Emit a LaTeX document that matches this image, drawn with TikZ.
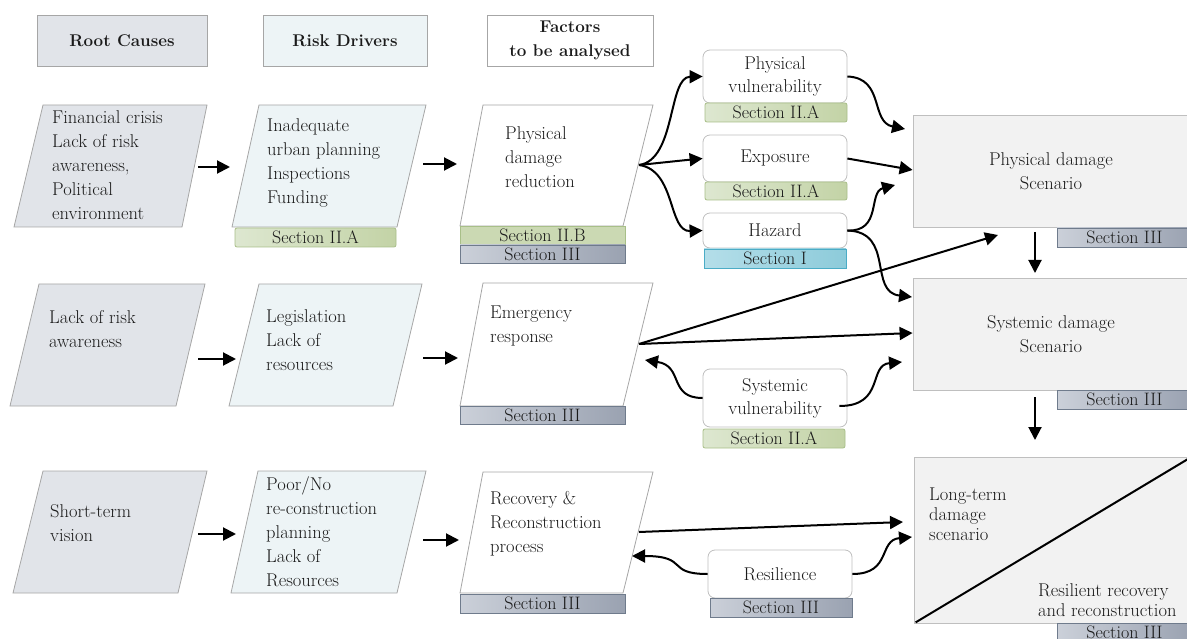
\documentclass[tikz,border=0pt]{standalone}
\usepackage{fontspec}
\usetikzlibrary{arrows.meta}
\definecolor{ink}{HTML}{1A1A1A}
\definecolor{rootfill}{HTML}{E1E4E9}
\definecolor{riskfill}{HTML}{EDF4F6}
\definecolor{edgegray}{HTML}{A6A6A6}
\definecolor{scenfill}{HTML}{F2F2F2}
\definecolor{scendraw}{HTML}{BFBFBF}
\definecolor{greenL}{HTML}{DDE7D0}
\definecolor{greenR}{HTML}{C3D3A6}
\definecolor{greenD}{HTML}{A8BF88}
\definecolor{greyL}{HTML}{CBD0D9}
\definecolor{greyR}{HTML}{9AA2B1}
\definecolor{greyD}{HTML}{6F7B8C}
\definecolor{blueL}{HTML}{B4DEE9}
\definecolor{blueR}{HTML}{8DCBDA}
\definecolor{blueD}{HTML}{4BACC6}
\begin{document}
\begin{tikzpicture}[x=1pt,y=-1pt,
  every node/.style={text=ink, inner sep=0pt},
  body/.style={font=\rmfamily\fontsize{18.5}{24}\selectfont, align=left, anchor=west},
  head/.style={draw=edgegray, line width=0.8pt, font=\rmfamily\fontsize{17}{24}\selectfont\bfseries, align=center},
  rootpar/.style={draw=edgegray, fill=rootfill, line width=0.8pt},
  riskpar/.style={draw=edgegray, fill=riskfill, line width=0.8pt},
  factpar/.style={draw=edgegray, fill=white, line width=0.8pt},
  smallbox/.style={draw=scendraw, fill=white, rounded corners=7pt, line width=0.8pt,
    font=\rmfamily\fontsize{18.5}{23}\selectfont, align=center},
  scen/.style={draw=scendraw, fill=scenfill, line width=0.8pt,
    font=\rmfamily\fontsize{18.5}{24}\selectfont, align=center},
  sec/.style={line width=0.8pt, font=\rmfamily\fontsize{18}{20}\selectfont},
  secA/.style={sec, draw=greenD, left color=greenL, right color=greenR, rounded corners=2pt},
  secB/.style={sec, draw=greenD, fill=greenR!70!greenL},
  secIII/.style={sec, draw=greyD, left color=greyL, right color=greyR},
  secI/.style={sec, draw=blueD, left color=blueL, right color=blueR},
  arr/.style={draw=black, line width=2pt, -{Triangle[length=13pt,width=13pt]}}
]
\useasboundingbox (0,0) rectangle (1187,639);
\clip (0,0) rectangle (1187,639);

% column headers
\node[head, fill=rootfill, minimum width=170, minimum height=51] (hroot) at (122,40.5) {Root Causes};
\node[head, fill=riskfill, minimum width=164, minimum height=51] (hrisk) at (345,40.5) {Risk Drivers};
\node[head, fill=white, minimum width=166, minimum height=51] (hfact) at (570,40.5) {Factors\\to be analysed};

% root causes
\path[rootpar] (14,227) -- (43,105) -- (207,105) -- (182,227) -- cycle;
\node[body] (root1) at (52,165) {Financial crisis\\Lack of risk\\awareness,\\Political\\environment};
\path[rootpar] (10,406) -- (39,284) -- (205,284) -- (176,406) -- cycle;
\node[body] (root2) at (49,329.5) {Lack of risk\\awareness};
\path[rootpar] (13,593) -- (43,471) -- (207,471) -- (178,593) -- cycle;
\node[body] (root3) at (50,523.5) {Short-term\\vision};

% risk drivers
\path[riskpar] (232,227) -- (259,105) -- (426,105) -- (397,227) -- cycle;
\node[body] (risk1) at (267,163) {Inadequate\\urban planning\\Inspections\\Funding};
\node[secA, minimum width=161, minimum height=19] (secrisk1) at (315.5,237.5) {Section II.A};
\path[riskpar] (229,406) -- (259,284) -- (422,284) -- (393,406) -- cycle;
\node[body] (risk2) at (266,340) {Legislation\\Lack of\\resources};
\path[riskpar] (231,593) -- (258,471) -- (426,471) -- (397,593) -- cycle;
\node[body] (risk3) at (266,532) {Poor/No\\re-construction\\planning\\Lack of\\Resources};

% factors to be analysed
\path[factpar] (460,226) -- (483,105) -- (653,105) -- (623,226) -- cycle;
\node[body] (fact1) at (505,157.5) {Physical\\damage\\reduction};
\node[secB, minimum width=165, minimum height=19] (secfact1a) at (542.5,235.5) {Section II.B};
\node[secIII, minimum width=165, minimum height=18] (secfact1b) at (542.5,254) {Section III};
\path[factpar] (460,406) -- (483,283) -- (653,283) -- (623,406) -- cycle;
\node[body] (fact2) at (490,326) {Emergency\\response};
\node[secIII, minimum width=165, minimum height=18] (secfact2) at (542.5,415) {Section III};
\path[factpar] (460,593) -- (483,472) -- (653,472) -- (623,593) -- cycle;
\node[body] (fact3) at (490,524) {Recovery \&\\Reconstruction\\process};
\node[secIII, minimum width=165, minimum height=19] (secfact3) at (542.5,603.5) {Section III};

% hazard components
\node[smallbox, minimum width=144, minimum height=53] (pv) at (775,76.5) {Physical\\vulnerability};
\node[secA, minimum width=142, minimum height=19] (secpv) at (776,112.5) {Section II.A};
\node[smallbox, minimum width=144, minimum height=47] (expo) at (775,158.5) {Exposure};
\node[secA, minimum width=142, minimum height=18] (secexpo) at (776,191) {Section II.A};
\node[smallbox, minimum width=144, minimum height=35] (haz) at (775,230.5) {Hazard};
\node[secI, minimum width=142, minimum height=19] (sechaz) at (775,258.5) {Section I};
\node[smallbox, minimum width=144, minimum height=58] (sysv) at (775,398) {Systemic\\vulnerability};
\node[secA, minimum width=142, minimum height=19] (secsysv) at (774,438.5) {Section II.A};
\node[smallbox, minimum width=144, minimum height=48] (resil) at (780,574) {Resilience};
\node[secIII, minimum width=142, minimum height=19] (secresil) at (781,607.5) {Section III};

% damage scenarios
\node[scen, minimum width=276, minimum height=112] (pds) at (1051,171) {Physical damage\\Scenario};
\node[secIII, minimum width=135, minimum height=19] (secpds) at (1124.5,237.5) {Section III};
\node[scen, minimum width=276, minimum height=112] (sds) at (1051,334) {Systemic damage\\Scenario};
\node[secIII, minimum width=135, minimum height=19] (secsds) at (1124.5,399.5) {Section III};
\node[scen, minimum width=274, minimum height=166] (lt) at (1051,540) {};
\node[secIII, minimum width=135, minimum height=19] (seclt) at (1124.5,632.5) {Section III};
\draw[line width=2pt] (lt.south west) ++(2,-1) -- (1188,459);
\node[body, font=\rmfamily\fontsize{18.5}{20}\selectfont] (ltA) at (929,514) {Long-term\\damage\\scenario};
\node[body, font=\rmfamily\fontsize{18.5}{20}\selectfont] (ltB) at (1038,600) {Resilient recovery\\and reconstruction};

% connector end points
\coordinate (r1o) at (198,167); \coordinate (k1i) at (230,167);
\coordinate (k1o) at (423,164); \coordinate (f1i) at (457,164);
\coordinate (r2o) at (198,359); \coordinate (k2i) at (236,359);
\coordinate (k2o) at (423,358); \coordinate (f2i) at (458,358);
\coordinate (r3o) at (198,534); \coordinate (k3i) at (236,534);
\coordinate (k3o) at (423,540); \coordinate (f3i) at (459,540);
\coordinate (f1o) at (639,165);
\coordinate (f2o) at (639,344);
\coordinate (f2b) at (645,360);
\coordinate (f3o) at (639,532);
\coordinate (f3b) at (632,556);
\coordinate (pdsA) at (905,129);
\coordinate (pdsB) at (895,185);
\coordinate (pdsC) at (998,235);
\coordinate (sdsA) at (912,297);
\coordinate (sdsB) at (902,362);
\coordinate (pdsD) at (1035,232); \coordinate (sdsT) at (1035,273);
\coordinate (sdsD) at (1035,397); \coordinate (ltT) at (1035,440);
\coordinate (ltA1) at (903,522);
\coordinate (ltA2) at (912,537);

% connectors
\draw[arr] (r1o) -- (k1i);
\draw[arr] (k1o) -- (f1i);
\draw[arr] (r2o) -- (k2i);
\draw[arr] (k2o) -- (f2i);
\draw[arr] (r3o) -- (k3i);
\draw[arr] (k3o) -- (f3i);
\draw[arr] (f1o) .. controls (676,160) and (668,77) .. (pv.west);
\draw[arr] (f1o) .. controls (665,162) .. (expo.west);
\draw[arr] (f1o) .. controls (676,170) and (668,232) .. (haz.west);
\draw[arr] (pv.east) .. controls (885,78) and (870,122) .. (pdsA);
\draw[arr] (expo.east) -- (sds.west |- 0,170);
\draw[arr] (haz.east) .. controls (882,232) and (868,192) .. (pdsB);
\draw[arr] (haz.east) .. controls (895,232) and (868,292) .. (sdsA);
\draw[arr] (f2o) -- (pdsC);
\draw[arr] (f2o) -- (sds.west |- 0,333);
\draw[arr] (sysv.west) .. controls (668,398) and (684,366) .. (f2b);
\draw[arr] (sysv.east) ++(-8,8) .. controls (885,406) and (868,365) .. (sdsB);
\draw[arr] (pdsD) -- (sdsT);
\draw[arr] (sdsD) -- (ltT);
\draw[arr] (f3o) -- (ltA1);
\draw[arr] (resil.west) .. controls (665,574) and (690,556) .. (f3b);
\draw[arr] (resil.east) .. controls (892,574) and (878,540) .. (ltA2);
\end{tikzpicture}
\end{document}
